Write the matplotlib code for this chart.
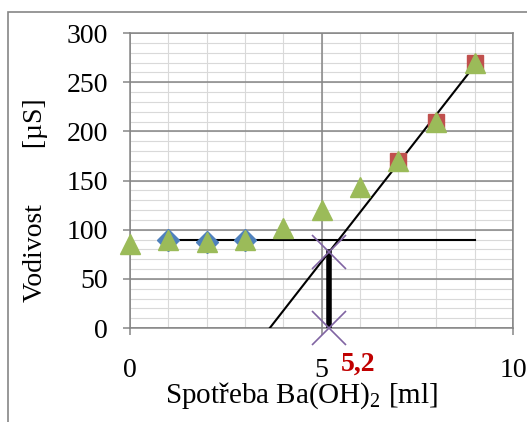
import matplotlib
matplotlib.use("Agg")
from matplotlib import pyplot
from matplotlib.patches import Rectangle
from matplotlib.ticker import MultipleLocator
import numpy

# measured points
volume = [0, 1, 2, 3, 4, 5, 6, 7, 8, 9]
conductivity = [85, 90, 87, 90, 102, 120, 143, 170, 210, 270]
flat_x = [1, 2, 3]
flat_y = [90, 87, 90]
rise_x = [7, 8, 9]
rise_y = [170, 210, 270]

# construction lines
level_x = [1, 9]
level_y = [89, 89]
slope_x = [3.65, 9]
slope_y = [0, 267]
endpoint_x = [5.2, 5.2]
endpoint_y = [0, 77]
endpoint_label = "5,2"

pyplot.rcParams["font.family"] = ["Liberation Serif", "DejaVu Serif"]
pyplot.rcParams["mathtext.fontset"] = "custom"
pyplot.rcParams["mathtext.rm"] = "Liberation Serif"

W, H = 527, 422
fig = pyplot.figure(figsize=(W / 100, H / 100), dpi=100)
ax = fig.add_axes([130 / W, 1 - 328 / H, 383 / W, 295 / H])

grey = "#868686"
xmax, ymax = 10, 300
ax.set_xlim(0, xmax)
ax.set_ylim(0, ymax)
ax.xaxis.set_major_locator(MultipleLocator(5))
ax.yaxis.set_major_locator(MultipleLocator(50))

# minor grid drawn underneath the major one
ax.vlines(numpy.arange(1, xmax, 1), 0, ymax, color="#D9D9D9", lw=0.8, zorder=0.1)
ax.hlines(numpy.arange(10, ymax, 10), 0, xmax, color="#D9D9D9", lw=0.8, zorder=0.1)
ax.grid(which="major", color=grey, lw=1.1)
ax.set_axisbelow(True)
for s in ax.spines.values():
    s.set_color(grey)
    s.set_linewidth(1.1)
ax.tick_params(which="major", direction="out", length=5, width=1.1, color=grey,
               labelsize=20)
ax.tick_params(axis="y", pad=11)
ax.tick_params(axis="x", pad=16.5)

ax.plot(level_x, level_y, "-", color="black", lw=1.5, zorder=3)
ax.plot(slope_x, slope_y, "-", color="black", lw=1.5, zorder=3)
ax.plot(endpoint_x, endpoint_y, "-", color="black", lw=4, zorder=3)
ax.plot(endpoint_x, endpoint_y, "x", color="#8064A2", ms=25, mew=1.2,
        zorder=4, clip_on=False)

ax.plot(flat_x, flat_y, "D", color="#4F81BD", ms=11, zorder=5)
ax.plot(rise_x, rise_y, "s", color="#C0504D", ms=11, zorder=5)
ax.plot(volume, conductivity, "^", color="#9BBB59", ms=15, zorder=6,
        clip_on=False)

ax.text(endpoint_x[0] + 0.3, -24, endpoint_label, color="#C00000",
        fontsize=20, fontweight="bold", ha="left", va="top")

fig.text(302 / W, 1 - 403 / H, r"Spotřeba Ba(OH)$_2$ [ml]", fontsize=21,
         ha="center", va="baseline")
fig.text(36 / W, 1 - 200 / H, "Vodivost        [µS]", fontsize=20,
         rotation=90, ha="center", va="center")

fig.patches.append(Rectangle((8 / W, -0.1), 1.2, 1 - 12 / H + 0.1,
                             transform=fig.transFigure, fill=False,
                             edgecolor=grey, lw=1.2))

pyplot.savefig("out.png", dpi=100)
pyplot.close()
